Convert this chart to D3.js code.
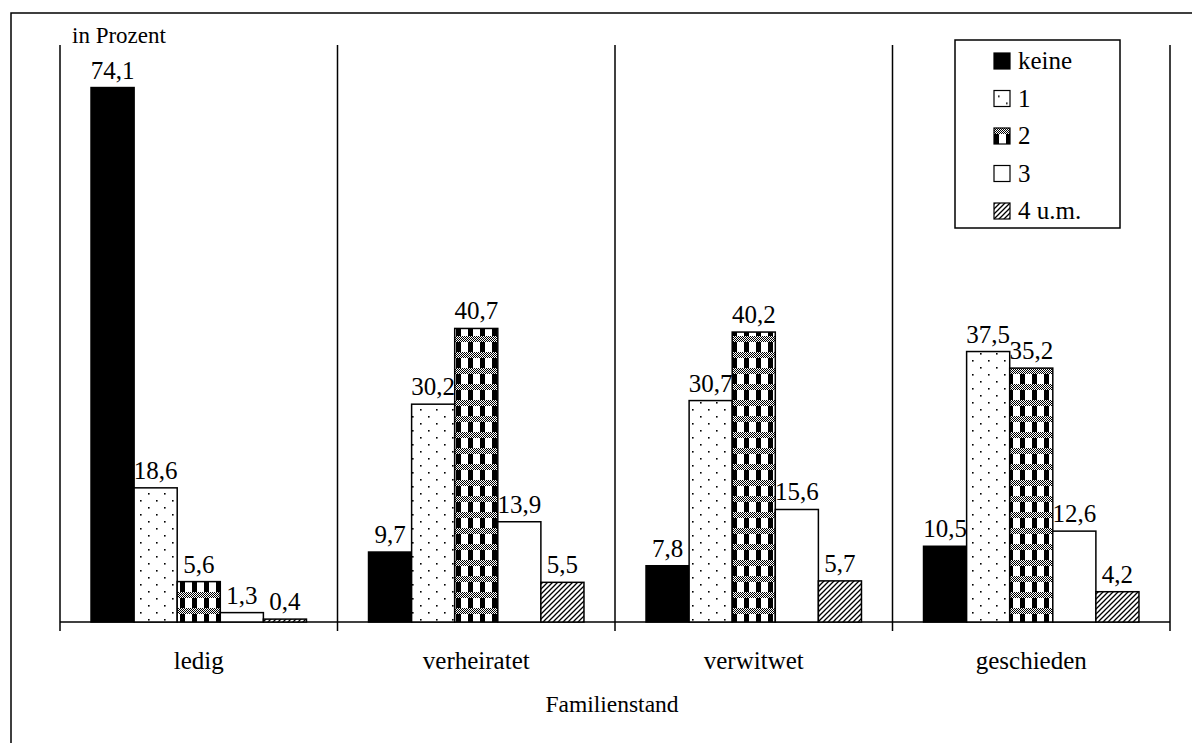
<!DOCTYPE html>
<meta charset="utf-8">
<style>
body { margin: 0; background: #fff; }
svg { display: block; }
text { font-family: "Liberation Serif", "Times New Roman", serif; fill: #000; }
.frame line { stroke: #000; stroke-width: 1.5px; }
.bars rect { stroke: #000; stroke-width: 1.5px; }
</style>
<svg width="1192" height="743"></svg>
<script src="https://cdnjs.cloudflare.com/ajax/libs/d3/7.8.5/d3.min.js"></script>
<script>

var categories = ["ledig", "verheiratet", "verwitwet", "geschieden"];
var series = ["keine", "1", "2", "3", "4 u.m."];
var keine = [74.1, 9.7, 7.8, 10.5];
var eins = [18.6, 30.2, 30.7, 37.5];
var zwei = [5.6, 40.7, 40.2, 35.2];
var drei = [1.3, 13.9, 15.6, 12.6];
var vier = [0.4, 5.5, 5.7, 4.2];
var yTicks = [0, 80];

var values = [keine, eins, zwei, drei, vier];
var fills = ["#000", "url(#dots)", "url(#check)", "#fff", "url(#hatch)"];

var svg = d3.select("svg");

// patterns
var defs = svg.append("defs");

var dots = defs.append("pattern").attr("id", "dots")
    .attr("patternUnits", "userSpaceOnUse").attr("width", 16).attr("height", 14);
dots.append("rect").attr("width", 16).attr("height", 14).attr("fill", "#fff");
dots.append("rect").attr("x", 4).attr("y", 3).attr("width", 1.6).attr("height", 1.6).attr("fill", "#000");
dots.append("rect").attr("x", 12).attr("y", 10).attr("width", 1.6).attr("height", 1.6).attr("fill", "#000");

var fine = defs.append("pattern").attr("id", "fine")
    .attr("patternUnits", "userSpaceOnUse").attr("width", 2).attr("height", 2);
fine.append("rect").attr("width", 2).attr("height", 2).attr("fill", "#fff");
fine.append("rect").attr("width", 1).attr("height", 1).attr("fill", "#000");
fine.append("rect").attr("x", 1).attr("y", 1).attr("width", 1).attr("height", 1).attr("fill", "#000");

var check = defs.append("pattern").attr("id", "check")
    .attr("patternUnits", "userSpaceOnUse").attr("width", 12).attr("height", 16);
check.append("rect").attr("width", 12).attr("height", 16).attr("fill", "#fff");
check.append("rect").attr("width", 5).attr("height", 16).attr("fill", "#000");
check.append("rect").attr("width", 12).attr("height", 6).attr("fill", "url(#fine)");

var hatch = defs.append("pattern").attr("id", "hatch")
    .attr("patternUnits", "userSpaceOnUse").attr("width", 5).attr("height", 5);
hatch.append("rect").attr("width", 5).attr("height", 5).attr("fill", "#fff");
hatch.append("path").attr("d", "M0,5L5,0M-1,1L1,-1M4,6L6,4")
    .attr("stroke", "#000").attr("stroke-width", 1.3);

// outer frame
svg.append("rect").attr("x", 11).attr("y", 13).attr("width", 1200).attr("height", 760)
    .attr("fill", "none").attr("stroke", "#000").attr("stroke-width", 1.5);

var x = d3.scaleBand().domain(categories).range([60, 1170]);
var xs = d3.scaleBand().domain(series).range([0, x.bandwidth()]).paddingOuter(0.72);
var y = d3.scaleLinear().domain([0, 80]).range([622, 45]);
var fmt = function(v) { return d3.format(".1f")(v).replace(".", ","); };

var frame = svg.append("g").attr("class", "frame");
frame.append("line").attr("x1", 60).attr("x2", 60).attr("y1", y(yTicks[1])).attr("y2", y(yTicks[0]));
frame.append("line").attr("x1", 60).attr("x2", 1170).attr("y1", y(0)).attr("y2", y(0));
var bounds = categories.map(function(c) { return x(c); }).concat([x.range()[1]]);
frame.selectAll(".tick").data(bounds).enter().append("line")
    .attr("x1", function(d) { return d; }).attr("x2", function(d) { return d; })
    .attr("y1", y(0)).attr("y2", y(0) + 9);
frame.selectAll(".sep").data(bounds.slice(1)).enter().append("line")
    .attr("x1", function(d) { return d; }).attr("x2", function(d) { return d; })
    .attr("y1", y(80)).attr("y2", y(0));

var bars = svg.append("g").attr("class", "bars");
series.forEach(function(s, i) {
  var g = bars.append("g");
  g.selectAll("rect").data(values[i]).enter().append("rect")
      .attr("x", function(d, j) { return x(categories[j]) + xs(s); })
      .attr("y", function(d) { return y(d); })
      .attr("width", xs.bandwidth())
      .attr("height", function(d) { return y(0) - y(d); })
      .attr("fill", fills[i]);
  svg.selectAll(".lbl" + i).data(values[i]).enter().append("text")
      .attr("x", function(d, j) { return x(categories[j]) + xs(s) + xs.bandwidth() / 2; })
      .attr("y", function(d) { return y(d) - 9; })
      .attr("text-anchor", "middle")
      .attr("font-size", 25)
      .text(fmt);
});

svg.selectAll(".cat").data(categories).enter().append("text")
    .attr("x", function(d) { return x(d) + x.bandwidth() / 2; })
    .attr("y", 669)
    .attr("text-anchor", "middle")
    .attr("font-size", 25)
    .text(function(d) { return d; });

svg.append("text").attr("x", 612).attr("y", 712).attr("text-anchor", "middle")
    .attr("font-size", 23.5).text("Familienstand");

svg.append("text").attr("x", 72).attr("y", 43).attr("font-size", 23).text("in Prozent");

// legend
var legend = svg.append("g");
legend.append("rect").attr("x", 955).attr("y", 40).attr("width", 165).attr("height", 188)
    .attr("fill", "#fff").attr("stroke", "#000").attr("stroke-width", 1.5);
var item = legend.selectAll(".item").data(series).enter().append("g")
    .attr("transform", function(d, i) { return "translate(994," + (69 + i * 37.5) + ")"; });
item.append("rect").attr("x", 0).attr("y", -16).attr("width", 16).attr("height", 16)
    .attr("fill", function(d, i) { return fills[i]; })
    .attr("stroke", "#000").attr("stroke-width", 1.2);
item.append("text").attr("x", 24).attr("y", 0).attr("font-size", 25)
    .text(function(d) { return d; });

</script>
